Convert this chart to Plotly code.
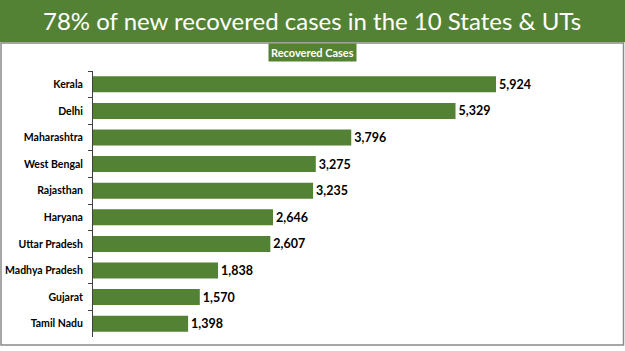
import plotly.graph_objects as go

states = ["Kerala", "Delhi", "Maharashtra", "West Bengal", "Rajasthan",
          "Haryana", "Uttar Pradesh", "Madhya Pradesh", "Gujarat", "Tamil Nadu"]
recovered = [5924, 5329, 3796, 3275, 3235, 2646, 2607, 1838, 1570, 1398]
title_text = "78% of new recovered cases in the 10 States & UTs"
series_name = "Recovered Cases"

W, H = 625, 351
L, R, T, B = 93, 25, 71, 14
PW, PH = W - L - R, H - T - B

def px(x):
    return (x - L) / PW

def py(y):
    return (H - B - y) / PH

GREEN = "#548235"

fig = go.Figure(go.Bar(
    x=recovered, y=states, orientation="h",
    marker=dict(color=GREEN, line=dict(width=0)),
    text=[f"{v:,}" for v in recovered], textposition="outside",
    textfont=dict(family="Lato", size=12.5, color="black", weight="bold"),
    cliponaxis=False, name=series_name,
))

fig.update_layout(
    width=W, height=H,
    margin=dict(l=L, r=R, t=T, b=B, pad=0, autoexpand=False),
    paper_bgcolor="white", plot_bgcolor="white",
    showlegend=False, bargap=0.4,
    xaxis=dict(range=[0, 5924 * PW / 403], visible=False, automargin=False),
    yaxis=dict(autorange="reversed", showline=True, linecolor="#404040", linewidth=1,
               ticks="outside", ticklen=4, tickcolor="#404040", tickson="boundaries",
               ticklabelstandoff=7, automargin=False,
               tickfont=dict(family="Lato", size=10.5, color="black", weight="bold"),
               showgrid=False),
    shapes=[
        dict(type="rect", xref="paper", yref="paper", x0=px(0), x1=px(W), y0=py(42), y1=py(0),
             fillcolor=GREEN, line=dict(width=0), layer="below"),
        dict(type="line", xref="paper", yref="paper", x0=px(0), x1=px(W), y0=py(42.5), y1=py(42.5),
             line=dict(color="#f2dcc0", width=1.2)),
        dict(type="rect", xref="paper", yref="paper", x0=px(1), x1=px(623.5), y0=py(345), y1=py(43),
             fillcolor="rgba(0,0,0,0)", line=dict(color="#8a8a8a", width=1.5)),
    ],
    annotations=[
        dict(text=title_text, xref="paper", yref="paper", x=px(312), y=py(21),
             xanchor="center", yanchor="middle", showarrow=False,
             font=dict(family="Lato", size=24, color="white")),
        dict(text="<b>" + series_name + "</b>", xref="paper", yref="paper", x=px(312), y=py(52),
             xanchor="center", yanchor="middle", showarrow=False,
             bgcolor=GREEN, borderpad=2,
             font=dict(family="Lato", size=11, color="white")),
    ],
)

fig.write_html("out.html")
